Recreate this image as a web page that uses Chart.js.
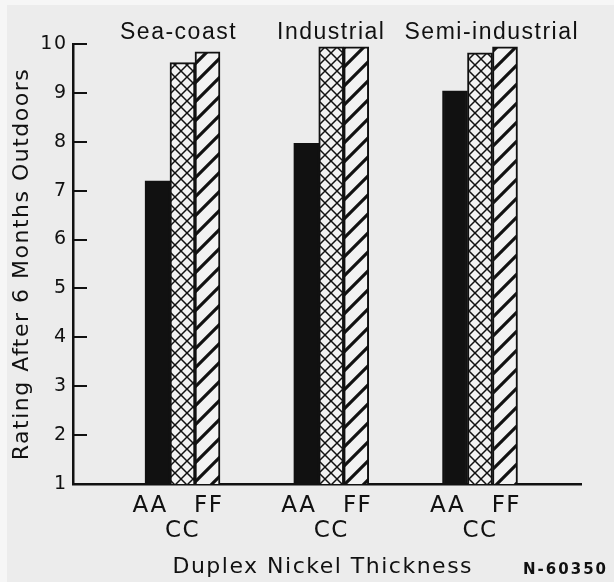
<!DOCTYPE html>
<html>
<head>
<meta charset="utf-8">
<script src="https://cdn.jsdelivr.net/npm/chart.js@4"></script>
<style>
  body { margin: 0; background: #f6f6f6; }
  #c { position: absolute; left: 7px; top: 5px; background: #ececec; }
</style>
</head>
<body>
<canvas id="c" width="607" height="577"></canvas>
<script>
// groups and values
const sites = ['Sea-coast', 'Industrial', 'Semi-industrial'];
const groupLabel = ['AA   FF ', 'CC'];
const ratingAA = [7.2, 7.97, 9.04];
const ratingCC = [9.62, 9.94, 9.82];
const ratingFF = [9.84, 9.94, 9.94];
const yTicks = [1, 2, 3, 4, 5, 6, 7, 8, 9, 10];
const stampText = 'N-60350';

const ink = '#111';
const face = '"DejaVu Sans", sans-serif';
// the titles sit a little off the group centres in the original
const titleNudge = [s => s + ' ', s => s, s => '   ' + s];

// hatch fills
function crossHatch() {
  const c = document.createElement('canvas');
  c.width = 12; c.height = 12;
  const g = c.getContext('2d');
  g.fillStyle = '#f2f2f2';
  g.fillRect(0, 0, 12, 12);
  g.strokeStyle = '#111';
  g.lineWidth = 1.5;
  g.beginPath();
  g.moveTo(0, 0); g.lineTo(12, 12);
  g.moveTo(12, 0); g.lineTo(0, 12);
  g.stroke();
  return g.createPattern(c, 'repeat');
}
function slashHatch() {
  const s = 19;
  const c = document.createElement('canvas');
  c.width = s; c.height = s;
  const g = c.getContext('2d');
  g.fillStyle = '#f2f2f2';
  g.fillRect(0, 0, s, s);
  g.strokeStyle = '#111';
  g.lineWidth = 3.2;
  g.beginPath();
  g.moveTo(-2, s + 2); g.lineTo(s + 2, -2);
  g.moveTo(-s / 2, s / 2); g.lineTo(s / 2, -s / 2);
  g.moveTo(s / 2, s * 1.5); g.lineTo(s * 1.5, s / 2);
  g.stroke();
  return g.createPattern(c, 'repeat');
}

const pts = arr => arr.map((v, i) => ({ x: i + 1, y: v }));
const groupTicks = s => { s.ticks = sites.map((n, i) => ({ value: i + 1 })); };

// wide lettering like the original typesetting
const spacing = {
  id: 'spacing',
  beforeDraw(chart) { chart.ctx.letterSpacing = '1.5px'; }
};

const stamp = {
  id: 'stamp',
  afterDraw(chart) {
    const c = chart.ctx;
    c.save();
    c.font = 'bold 15px ' + face;
    c.letterSpacing = '2px';
    c.fillStyle = ink;
    c.textAlign = 'right';
    c.textBaseline = 'middle';
    c.fillText(stampText, chart.chartArea.right + 27, chart.chartArea.bottom + 86);
    c.restore();
  }
};

const ctx = document.getElementById('c').getContext('2d');
new Chart(ctx, {
  type: 'bar',
  data: {
    datasets: [
      { label: 'AA', data: pts(ratingAA), backgroundColor: '#111', borderColor: '#111', borderWidth: 2 },
      { label: 'CC', data: pts(ratingCC), backgroundColor: crossHatch(), borderColor: '#111', borderWidth: 2 },
      { label: 'FF', data: pts(ratingFF), backgroundColor: slashHatch(), borderColor: '#111', borderWidth: 2 }
    ]
  },
  options: {
    responsive: false,
    animation: false,
    layout: { padding: { right: 33 } },
    datasets: { bar: { barThickness: 25 } },
    plugins: { legend: { display: false }, tooltip: { enabled: false } },
    scales: {
      x: {
        type: 'linear', position: 'bottom', min: 0.264, max: 3.679, offset: false,
        afterBuildTicks: groupTicks,
        afterFit: s => { s.height = 98; },
        grid: { display: false, drawTicks: false },
        border: { color: '#111', width: 2.5 },
        ticks: {
          callback: () => groupLabel,
          color: ink, padding: 9, maxRotation: 0, autoSkip: false,
          font: { family: face, size: 23, lineHeight: 1.1 }
        },
        title: {
          display: true, text: 'Duplex Nickel Thickness ', color: ink,
          font: { family: face, size: 22 }, padding: { top: 0, bottom: 2 }
        }
      },
      x2: {
        type: 'linear', position: 'top', min: 0.264, max: 3.679, offset: false,
        afterBuildTicks: groupTicks,
        afterFit: s => { s.height = 39; },
        grid: { display: false, drawTicks: false },
        border: { display: false },
        ticks: {
          callback: v => titleNudge[v - 1](sites[v - 1]),
          color: ink, padding: -2, maxRotation: 0, autoSkip: false,
          font: { family: '"Liberation Sans", sans-serif', size: 23 }
        }
      },
      y: {
        min: 1, max: 10,
        afterBuildTicks: s => { s.ticks = yTicks.map(v => ({ value: v })); },
        afterFit: s => { s.width = 66; },
        grid: { drawOnChartArea: false, tickLength: -14, color: '#111', lineWidth: 2 },
        border: { color: '#111', width: 2.5 },
        ticks: { color: ink, padding: 19.5, font: { family: face, size: 19 } },
        title: {
          display: true, text: 'Rating After 6 Months Outdoors', color: ink,
          font: { family: face, size: 22 }, padding: { top: 2, bottom: 0 }
        }
      }
    }
  },
  plugins: [spacing, stamp]
});
</script>
</body>
</html>
